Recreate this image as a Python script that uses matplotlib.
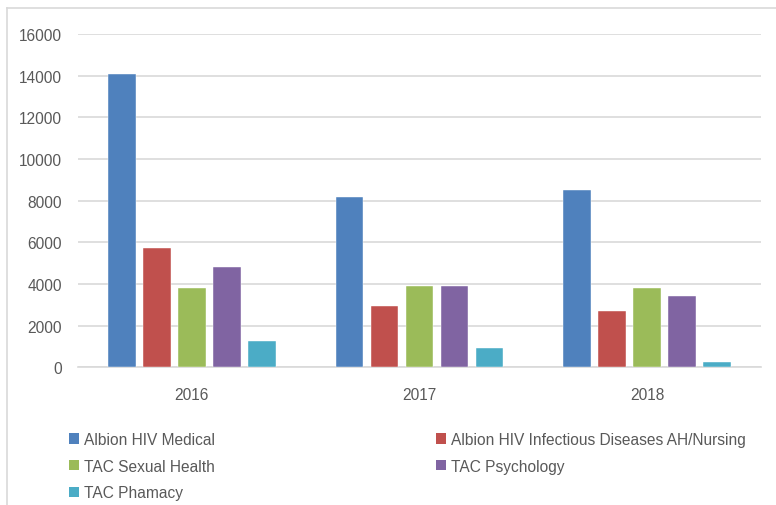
import matplotlib
matplotlib.use("Agg")
import matplotlib.pyplot as plt
from matplotlib.patches import Patch
from matplotlib.lines import Line2D
import numpy as np

plt.rcParams['font.family'] = ['Liberation Sans', 'DejaVu Sans']

years = ["2016", "2017", "2018"]
series_names = [
    "Albion HIV Medical",
    "Albion HIV Infectious Diseases AH/Nursing",
    "TAC Sexual Health",
    "TAC Psychology",
    "TAC Phamacy",
]
albion_medical = [14080, 8180, 8530]
albion_infectious = [5730, 2960, 2720]
tac_sexual_health = [3800, 3890, 3830]
tac_psychology = [4820, 3890, 3410]
tac_pharmacy = [1260, 930, 270]
yticks = [0, 2000, 4000, 6000, 8000, 10000, 12000, 14000, 16000]

series_values = [albion_medical, albion_infectious, tac_sexual_health,
                 tac_psychology, tac_pharmacy]
colors = ["#4F81BD", "#C0504D", "#9BBB59", "#8064A2", "#4BACC6"]
text_color = "#595959"
fs = 11.2

W, H = 776, 506
fig = plt.figure(figsize=(W / 100, H / 100), dpi=100)
ax = fig.add_axes([78 / W, 1 - 368.3 / H, (761 - 78) / W, (368.3 - 35) / H])

x = np.arange(len(years))
pitch = 0.1537
width = 0.121
for i, (vals, c) in enumerate(zip(series_values, colors)):
    ax.bar(x + (i - 2) * pitch, vals, width=width, color=c, zorder=3,
           edgecolor="white", linewidth=0.3, label=series_names[i])

ax.set_xlim(-0.5, 2.5)
ax.set_ylim(0, 16000)
ax.set_yticks(yticks)
ax.set_yticklabels([str(v) for v in yticks])
ax.set_xticks(x)
ax.set_xticklabels(years)
ax.grid(axis="y", color="#D9D9D9", linewidth=1.2, zorder=0)
ax.tick_params(axis="y", length=0, pad=11.5, labelsize=fs, labelcolor=text_color)
ax.tick_params(axis="x", length=0, pad=14, labelsize=fs, labelcolor=text_color)
for s in ["top", "right", "left"]:
    ax.spines[s].set_visible(False)
ax.spines["bottom"].set_color("#D9D9D9")
ax.spines["bottom"].set_linewidth(1.2)

# outer chart border (top and left visible)
fig.add_artist(Line2D([7 / W, 7 / W], [0, 1 - 9 / H], transform=fig.transFigure,
                      color="#D9D9D9", linewidth=1.2))
fig.add_artist(Line2D([7 / W, 1], [1 - 9 / H, 1 - 9 / H], transform=fig.transFigure,
                      color="#D9D9D9", linewidth=1.2))

handles = [Patch(facecolor=c, edgecolor="none") for c in colors]
col1 = [0, 2, 4]
col2 = [1, 3]
common = dict(frameon=False, loc="upper left", fontsize=fs, labelcolor=text_color,
              handlelength=0.65, handleheight=0.65, handletextpad=0.33,
              borderpad=0, borderaxespad=0, labelspacing=0.75)
leg1 = fig.legend([handles[i] for i in col1], [series_names[i] for i in col1],
                  bbox_to_anchor=(69 / W, 1 - 433 / H), **common)
leg2 = fig.legend([handles[i] for i in col2], [series_names[i] for i in col2],
                  bbox_to_anchor=(436 / W, 1 - 433 / H), **common)

fig.savefig("out.png", dpi=100, facecolor="white")
